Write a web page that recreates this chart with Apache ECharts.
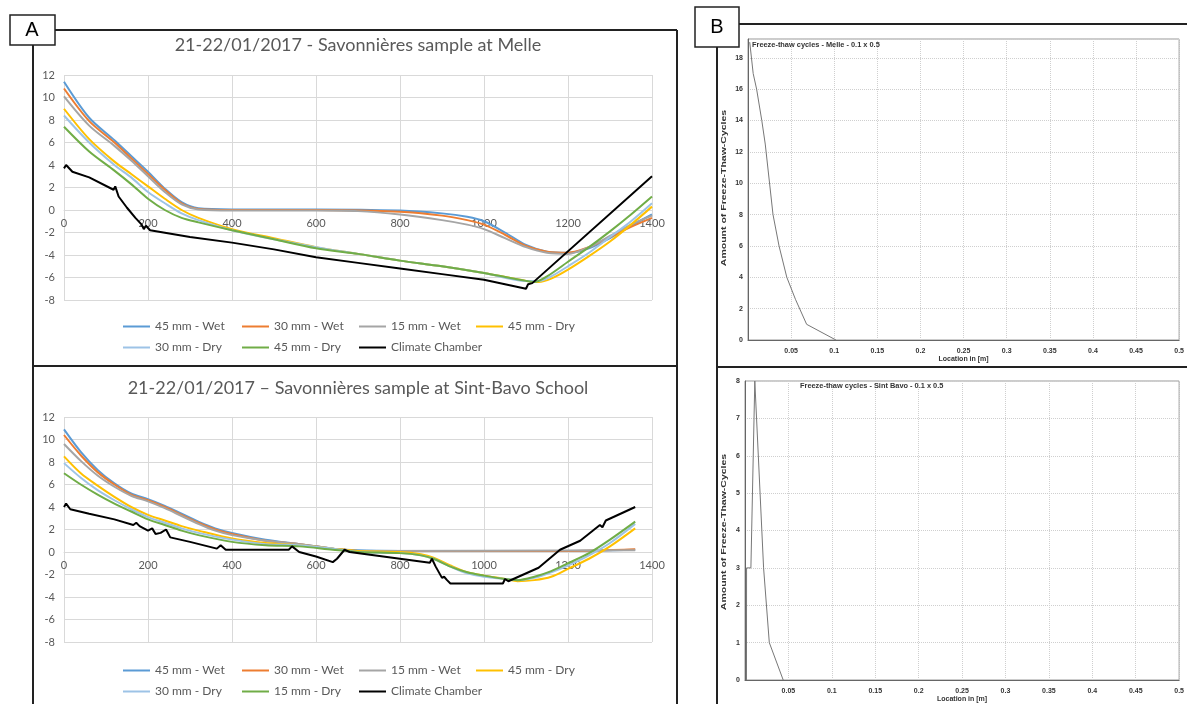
<!DOCTYPE html>
<html>
<head>
<meta charset="utf-8">
<title>Savonnières freeze-thaw</title>
<script src="https://cdn.jsdelivr.net/npm/echarts@6/dist/echarts.min.js"></script>
<style>
  html, body { margin: 0; padding: 0; background: #fff; }
  #chart { width: 1187px; height: 704px; }
</style>
</head>
<body>
<div id="chart"></div>
<script>
// --- A: temperature profiles, Melle ([time index, °C]) ---
const melleWet45 = [[0,11.4],[60,8.2],[120,6.2],[160,4.8],[200,3.4],[240,1.9],[280,0.7],[320,0.15],[400,0.05],[600,0.05],[800,-0.05],[900,-0.3],[960,-0.6],[1000,-1.0],[1050,-2.0],[1100,-3.1],[1150,-3.7],[1200,-3.8],[1250,-3.4],[1300,-2.5],[1350,-1.4],[1400,-0.4]];
const melleWet30 = [[0,10.8],[60,7.9],[120,6.0],[160,4.6],[200,3.2],[240,1.8],[280,0.6],[320,0.1],[400,0.0],[600,0.0],[800,-0.15],[900,-0.5],[960,-0.9],[1000,-1.3],[1050,-2.2],[1100,-3.2],[1150,-3.7],[1200,-3.8],[1250,-3.3],[1300,-2.4],[1350,-1.5],[1400,-0.7]];
const melleWet15 = [[0,10.1],[60,7.5],[120,5.7],[160,4.4],[200,3.0],[240,1.6],[280,0.5],[320,0.05],[400,-0.05],[600,-0.05],[700,-0.1],[800,-0.4],[900,-0.9],[960,-1.3],[1000,-1.7],[1050,-2.5],[1100,-3.3],[1150,-3.8],[1200,-3.9],[1250,-3.3],[1300,-2.3],[1350,-1.3],[1400,-0.5]];
const melleDry45 = [[0,9.0],[60,6.3],[120,4.3],[160,3.2],[200,2.1],[240,1.0],[280,0.0],[320,-0.7],[400,-1.7],[500,-2.5],[600,-3.3],[700,-3.9],[800,-4.5],[900,-5.0],[1000,-5.6],[1100,-6.3],[1130,-6.4],[1160,-6.1],[1200,-5.3],[1250,-4.1],[1300,-2.8],[1350,-1.3],[1400,0.3]];
const melleDry30 = [[0,8.4],[60,6.0],[120,4.0],[160,2.9],[200,1.6],[240,0.6],[280,-0.3],[320,-0.9],[400,-1.8],[500,-2.6],[600,-3.3],[700,-3.9],[800,-4.5],[900,-5.0],[1000,-5.6],[1100,-6.3],[1130,-6.3],[1160,-5.9],[1200,-5.0],[1250,-3.8],[1300,-2.4],[1350,-1.0],[1400,0.6]];
const melleDryGreen = [[0,7.4],[60,5.2],[120,3.5],[160,2.3],[200,1.0],[240,0.0],[280,-0.7],[320,-1.1],[400,-1.8],[500,-2.6],[600,-3.4],[700,-3.9],[800,-4.5],[900,-5.0],[1000,-5.6],[1100,-6.3],[1120,-6.4],[1150,-5.9],[1200,-4.6],[1250,-3.3],[1300,-1.9],[1350,-0.4],[1400,1.2]];
const melleChamber = [[0,3.7],[5,4.0],[20,3.4],[60,2.9],[118,1.8],[122,2.1],[130,1.2],[150,0.2],[170,-0.7],[185,-1.3],[190,-1.7],[195,-1.4],[205,-1.8],[300,-2.4],[400,-2.9],[500,-3.5],[600,-4.2],[700,-4.7],[800,-5.2],[900,-5.7],[1000,-6.2],[1100,-7.0],[1105,-6.6],[1115,-6.5],[1400,3.0]];

// --- A: temperature profiles, Sint-Bavo School ---
const bavoWet45 = [[0,10.9],[40,8.9],[80,7.3],[120,6.1],[160,5.2],[200,4.7],[240,4.1],[280,3.4],[320,2.7],[360,2.1],[400,1.7],[480,1.1],[560,0.7],[640,0.3],[700,0.15],[800,0.1],[1000,0.1],[1200,0.1],[1360,0.2]];
const bavoWet30 = [[0,10.4],[40,8.6],[80,7.1],[120,6.0],[160,5.1],[200,4.6],[240,4.0],[280,3.3],[320,2.6],[360,2.0],[400,1.6],[480,1.0],[560,0.7],[640,0.3],[700,0.1],[1000,0.1],[1200,0.1],[1360,0.25]];
const bavoWet15 = [[0,9.6],[40,8.1],[80,6.8],[120,5.8],[160,5.0],[200,4.5],[240,3.9],[280,3.2],[320,2.5],[360,1.9],[400,1.5],[480,1.0],[560,0.7],[640,0.3],[700,0.1],[1360,0.15]];
const bavoDry45 = [[0,8.5],[40,7.0],[80,5.9],[120,4.9],[160,4.0],[200,3.3],[240,2.8],[280,2.3],[320,1.9],[400,1.2],[480,0.8],[560,0.6],[640,0.3],[700,0.1],[800,0.0],[850,-0.2],[880,-0.5],[920,-1.2],[960,-1.8],[1000,-2.1],[1050,-2.4],[1080,-2.6],[1120,-2.5],[1160,-2.2],[1200,-1.5],[1250,-0.6],[1300,0.5],[1360,2.1]];
const bavoDry30 = [[0,7.9],[40,6.6],[80,5.5],[120,4.6],[160,3.8],[200,3.1],[240,2.6],[280,2.1],[320,1.7],[400,1.1],[480,0.7],[560,0.6],[640,0.3],[700,0.0],[800,-0.1],[850,-0.3],[880,-0.6],[920,-1.3],[960,-1.9],[1000,-2.2],[1050,-2.4],[1080,-2.5],[1120,-2.3],[1160,-1.8],[1200,-1.2],[1250,-0.3],[1300,0.8],[1360,2.5]];
const bavoDry15 = [[0,7.0],[40,6.0],[80,5.1],[120,4.3],[160,3.6],[200,2.9],[240,2.4],[280,1.9],[320,1.5],[400,0.9],[480,0.6],[560,0.5],[640,0.2],[700,0.0],[800,-0.1],[850,-0.3],[880,-0.6],[920,-1.3],[960,-1.8],[1000,-2.1],[1050,-2.4],[1080,-2.5],[1120,-2.2],[1160,-1.7],[1200,-1.0],[1250,-0.1],[1300,1.1],[1360,2.7]];
const bavoChamber = [[0,4.0],[5,4.3],[15,3.8],[60,3.4],[120,2.9],[165,2.4],[172,2.6],[180,2.3],[200,1.9],[210,2.1],[218,1.6],[230,1.7],[243,2.0],[253,1.3],[300,0.9],[364,0.3],[373,0.6],[385,0.2],[535,0.2],[543,0.5],[560,0.0],[600,-0.4],[640,-0.9],[650,-0.6],[668,0.2],[680,0.0],[871,-0.95],[876,-0.6],[885,-1.3],[900,-2.3],[905,-2.2],[912,-2.5],[920,-2.8],[1045,-2.8],[1050,-2.4],[1058,-2.6],[1130,-1.4],[1181,0.2],[1229,1.0],[1276,2.4],[1282,2.2],[1290,2.8],[1360,4.0]];

// --- B: freeze-thaw cycles over depth ---
const melleLoc = [0.002, 0.003, 0.006, 0.010, 0.016, 0.020, 0.029, 0.036, 0.045, 0.055, 0.068, 0.102];
const melleCycles = [19, 18.5, 17, 16, 14, 12.5, 8, 6, 4, 2.6, 1, 0];
const bavoLoc = [0.0017, 0.0018, 0.0068, 0.0113, 0.0214, 0.028, 0.044];
const bavoCycles = [0, 3, 3, 8, 3, 1, 0];

// legend laid out in columns, like Excel's grid of entries
const legendColsMelle = [['45 mm - Wet', '30 mm - Dry'], ['30 mm - Wet', '45 mm - Dry'], ['15 mm - Wet', 'Climate Chamber'], ['45 mm - Dry']];
const legendColsBavo = [['45 mm - Wet', '30 mm - Dry'], ['30 mm - Wet', '15 mm - Dry'], ['15 mm - Wet', 'Climate Chamber'], ['45 mm - Dry']];

const C = {
  wet45: '#5B9BD5', wet30: '#ED7D31', wet15: '#A5A5A5',
  dry45: '#FFC000', dry30: '#9DC3E6', green: '#70AD47', chamber: '#000000'
};
const colColors = [[C.wet45, C.dry30], [C.wet30, C.green], [C.wet15, C.chamber], [C.dry45]];
const colLefts = [123, 242, 359, 476];

const excelFont = 'Lato';
const simFont = 'Liberation Sans';

function tempLine(name, data, color, gi, smooth) {
  return {
    name: name, type: 'line', xAxisIndex: gi, yAxisIndex: gi,
    data: data, symbol: 'none', smooth: smooth ? 0.3 : false,
    lineStyle: { color: color, width: 2 }, itemStyle: { color: color },
    silent: true
  };
}

function pairs(xs, ys) {
  return xs.map((x, i) => [x, ys[i]]);
}

function legendCol(names, colors, left, top) {
  return {
    orient: 'vertical', top: top, left: left, padding: 0, itemGap: 6,
    icon: 'rect', itemWidth: 27, itemHeight: 2, selectedMode: false,
    textStyle: { fontFamily: excelFont, fontSize: 12, lineHeight: 15, color: '#595959' },
    data: names.map((n, i) => ({ name: n, itemStyle: { color: colors[i] } }))
  };
}

const legends = [];
legendColsMelle.forEach((col, i) => legends.push(legendCol(col, colColors[i], colLefts[i], 319)));
legendColsBavo.forEach((col, i) => legends.push(legendCol(col, colColors[i], colLefts[i], 663)));

// x axis labels sit on the 0 °C line, 90 px above the plot bottom
const excelX = (gi) => ({
  gridIndex: gi, type: 'value', min: 0, max: 1400, interval: 200,
  position: 'bottom', offset: -90,
  axisLine: { onZero: false, lineStyle: { color: '#D9D9D9' } },
  axisTick: { show: false },
  axisLabel: { color: '#595959', fontSize: 11, fontFamily: excelFont, formatter: (v) => String(v) },
  splitLine: { lineStyle: { color: '#D9D9D9' } }
});
const excelY = (gi) => ({
  gridIndex: gi, type: 'value', min: -8, max: 12, interval: 2,
  axisLine: { show: false, onZero: false }, axisTick: { show: false },
  axisLabel: { color: '#595959', fontSize: 11, fontFamily: excelFont, margin: 9 },
  splitLine: { lineStyle: { color: '#D9D9D9' } }
});
const simX = (gi) => ({
  gridIndex: gi, type: 'value', min: 0, max: 0.5, interval: 0.05,
  name: 'Location in [m]', nameLocation: 'middle', nameGap: 16,
  nameTextStyle: { fontFamily: simFont, fontSize: 7, fontWeight: 'bold', color: '#333' },
  axisLine: { onZero: false, lineStyle: { color: '#666' } },
  axisTick: { show: false },
  axisLabel: { showMinLabel: false, fontFamily: simFont, fontSize: 7, fontWeight: 'bold', color: '#333', margin: 8 },
  splitLine: { lineStyle: { color: '#cfcfcf', type: 'dotted' } }
});
const simY = (gi, max, interval) => ({
  gridIndex: gi, type: 'value', min: 0, max: max, interval: interval,
  axisLine: { show: true, onZero: false, lineStyle: { color: '#666' } },
  axisTick: { show: false },
  axisLabel: { showMaxLabel: max % interval === 0, fontFamily: simFont, fontSize: 7, fontWeight: 'bold', color: '#333', margin: 5 },
  splitLine: { lineStyle: { color: '#cfcfcf', type: 'dotted' } }
});

const frame = { stroke: '#222', lineWidth: 2 };
// the simulation screenshots are stretched vertically, so the rotated axis name is too
const yNameStyle = { text: 'Amount of Freeze-Thaw-Cycles', fontFamily: simFont, fontSize: 7, fontWeight: 'bold', fill: '#333', align: 'center', verticalAlign: 'middle' };

const option = {
  animation: false,
  backgroundColor: '#ffffff',
  title: [
    { text: '21-22/01/2017 - Savonnières sample at Melle', left: 358, top: 36, textAlign: 'center', padding: 0,
      textStyle: { fontFamily: excelFont, fontSize: 18, fontWeight: 'normal', color: '#595959' } },
    { text: '21-22/01/2017 – Savonnières sample at Sint-Bavo School', left: 358, top: 379, textAlign: 'center', padding: 0,
      textStyle: { fontFamily: excelFont, fontSize: 18, fontWeight: 'normal', color: '#595959' } },
    { text: 'Freeze-thaw cycles - Melle - 0.1 x 0.5', left: 752, top: 41, padding: 0,
      textStyle: { fontFamily: simFont, fontSize: 7.4, fontWeight: 'bold', color: '#333' } },
    { text: 'Freeze-thaw cycles - Sint Bavo - 0.1 x 0.5', left: 800, top: 382, padding: 0,
      textStyle: { fontFamily: simFont, fontSize: 7.4, fontWeight: 'bold', color: '#333' } }
  ],
  legend: legends,
  grid: [
    { left: 64, top: 75, width: 588, height: 225 },
    { left: 64, top: 417, width: 588, height: 225 },
    { left: 748, top: 39, width: 445, height: 301, show: true, borderColor: '#999', borderWidth: 1 },
    { left: 745, top: 381, width: 444, height: 302, show: true, borderColor: '#999', borderWidth: 1 }
  ],
  xAxis: [excelX(0), excelX(1), simX(2), simX(3)],
  yAxis: [excelY(0), excelY(1), simY(2, 19.2, 2), simY(3, 8, 1)],
  series: [
    tempLine('45 mm - Wet', melleWet45, C.wet45, 0, true),
    tempLine('30 mm - Wet', melleWet30, C.wet30, 0, true),
    tempLine('15 mm - Wet', melleWet15, C.wet15, 0, true),
    tempLine('45 mm - Dry', melleDry45, C.dry45, 0, true),
    tempLine('30 mm - Dry', melleDry30, C.dry30, 0, true),
    tempLine('45 mm - Dry', melleDryGreen, C.green, 0, true),
    tempLine('Climate Chamber', melleChamber, C.chamber, 0, false),

    tempLine('45 mm - Wet', bavoWet45, C.wet45, 1, true),
    tempLine('30 mm - Wet', bavoWet30, C.wet30, 1, true),
    tempLine('15 mm - Wet', bavoWet15, C.wet15, 1, true),
    tempLine('45 mm - Dry', bavoDry45, C.dry45, 1, true),
    tempLine('30 mm - Dry', bavoDry30, C.dry30, 1, true),
    tempLine('15 mm - Dry', bavoDry15, C.green, 1, true),
    tempLine('Climate Chamber', bavoChamber, C.chamber, 1, false),

    { name: 'Melle cycles', type: 'line', xAxisIndex: 2, yAxisIndex: 2, data: pairs(melleLoc, melleCycles),
      symbol: 'none', lineStyle: { color: '#777', width: 1 }, silent: true },
    { name: 'Sint Bavo cycles', type: 'line', xAxisIndex: 3, yAxisIndex: 3, data: pairs(bavoLoc, bavoCycles),
      symbol: 'none', lineStyle: { color: '#777', width: 1 }, silent: true }
  ],
  graphic: [
    // panel A frame
    { type: 'line', shape: { x1: 55, y1: 30, x2: 677, y2: 30 }, style: frame },
    { type: 'line', shape: { x1: 33, y1: 45, x2: 33, y2: 704 }, style: frame },
    { type: 'line', shape: { x1: 677, y1: 30, x2: 677, y2: 704 }, style: frame },
    { type: 'line', shape: { x1: 33, y1: 366, x2: 677, y2: 366 }, style: frame },
    { type: 'rect', shape: { x: 10, y: 15, width: 45, height: 30 }, style: { fill: '#fff', stroke: '#222', lineWidth: 1.5 } },
    { type: 'text', x: 32, y: 30, style: { text: 'A', fontFamily: simFont, fontSize: 20, fill: '#000', align: 'center', verticalAlign: 'middle' } },
    // panel B frame
    { type: 'line', shape: { x1: 739, y1: 24, x2: 1187, y2: 24 }, style: frame },
    { type: 'line', shape: { x1: 717, y1: 47, x2: 717, y2: 704 }, style: frame },
    { type: 'line', shape: { x1: 717, y1: 367, x2: 1187, y2: 367 }, style: frame },
    { type: 'rect', shape: { x: 695, y: 7, width: 44, height: 40 }, style: { fill: '#fff', stroke: '#222', lineWidth: 1.5 } },
    { type: 'text', x: 717, y: 27, style: { text: 'B', fontFamily: simFont, fontSize: 20, fill: '#000', align: 'center', verticalAlign: 'middle' } },
    // rotated y axis names of panel B
    { type: 'text', x: 724, y: 188, rotation: Math.PI / 2, scaleX: 1.5, style: yNameStyle },
    { type: 'text', x: 724, y: 532, rotation: Math.PI / 2, scaleX: 1.5, style: yNameStyle }
  ]
};

const myChart = echarts.init(document.getElementById('chart'));
myChart.setOption(option);
</script>
</body>
</html>
